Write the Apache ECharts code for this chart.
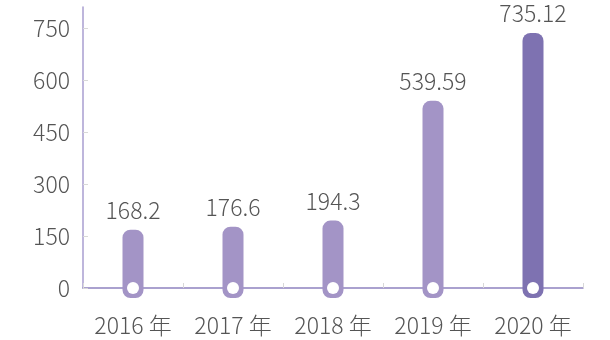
<!DOCTYPE html>
<html>
<head>
<meta charset="utf-8">
<script src="https://cdn.jsdelivr.net/npm/echarts@6/dist/echarts.min.js"></script>
<style>
  html, body { margin: 0; padding: 0; background: #ffffff; }
  #chart { width: 610px; height: 340px; }
</style>
</head>
<body>
<div id="chart"></div>
<script>
// Annual values, 2016–2020
const categories = ['2016 年', '2017 年', '2018 年', '2019 年', '2020 年'];
const values = [168.2, 176.6, 194.3, 539.59, 735.12];
const valueLabels = ['168.2', '176.6', '194.3', '539.59', '735.12'];
const yTicks = [0, 150, 300, 450, 600, 750];

const FONT = '"Noto Sans CJK SC", "Noto Sans", sans-serif';
const BAR_COLOR = '#a394c6';
const LAST_COLOR = '#7e72b1';
const BAR_W = 21;

const chart = echarts.init(document.getElementById('chart'), null, { renderer: 'canvas' });

chart.setOption({
  animation: false,
  grid: { left: 83, right: 27, top: 7, bottom: 52 },
  xAxis: {
    type: 'category',
    data: categories,
    axisLine: { lineStyle: { color: '#8e83c0', width: 1.5 } },
    axisTick: { show: true, inside: true, length: 5, lineStyle: { color: '#d8d8d8' } },
    axisLabel: {
      interval: 0, hideOverlap: false,
      color: '#555555', fontSize: 23, fontFamily: FONT, fontWeight: 300, margin: 26
    }
  },
  yAxis: {
    type: 'value',
    min: 0,
    max: 810,
    interval: 150,
    splitLine: { show: false },
    axisLine: { show: true, lineStyle: { color: '#a89ed0', width: 1.5 } },
    axisTick: { show: true, inside: true, length: 5, lineStyle: { color: '#d8d8d8' } },
    axisLabel: {
      color: '#555555', fontSize: 23, fontFamily: FONT, fontWeight: 300, margin: 13,
      showMaxLabel: false,
      formatter: v => (yTicks.indexOf(v) >= 0 ? String(v) : '')
    }
  },
  series: [{
    type: 'custom',
    data: values.map((v, i) => [i, v]),
    encode: { x: 0, y: 1 },
    clip: false,
    renderItem: function (params, api) {
      const idx = api.value(0);
      const top = api.coord([idx, api.value(1)]);
      const base = api.coord([idx, 0]);
      const color = idx === values.length - 1 ? LAST_COLOR : BAR_COLOR;
      const bottom = base[1] + 10;
      return {
        type: 'group',
        children: [
          {
            type: 'rect',
            shape: { x: top[0] - BAR_W / 2, y: top[1], width: BAR_W, height: bottom - top[1], r: 8 },
            style: { fill: color }
          },
          {
            type: 'circle',
            shape: { cx: top[0], cy: base[1], r: 6 },
            style: { fill: '#ffffff' }
          },
          {
            type: 'text',
            style: {
              text: valueLabels[params.dataIndex],
              x: top[0],
              y: top[1] - 8,
              align: 'center',
              verticalAlign: 'bottom',
              fill: '#555555',
              font: '300 23px ' + FONT
            }
          }
        ]
      };
    }
  }]
});
</script>
</body>
</html>
